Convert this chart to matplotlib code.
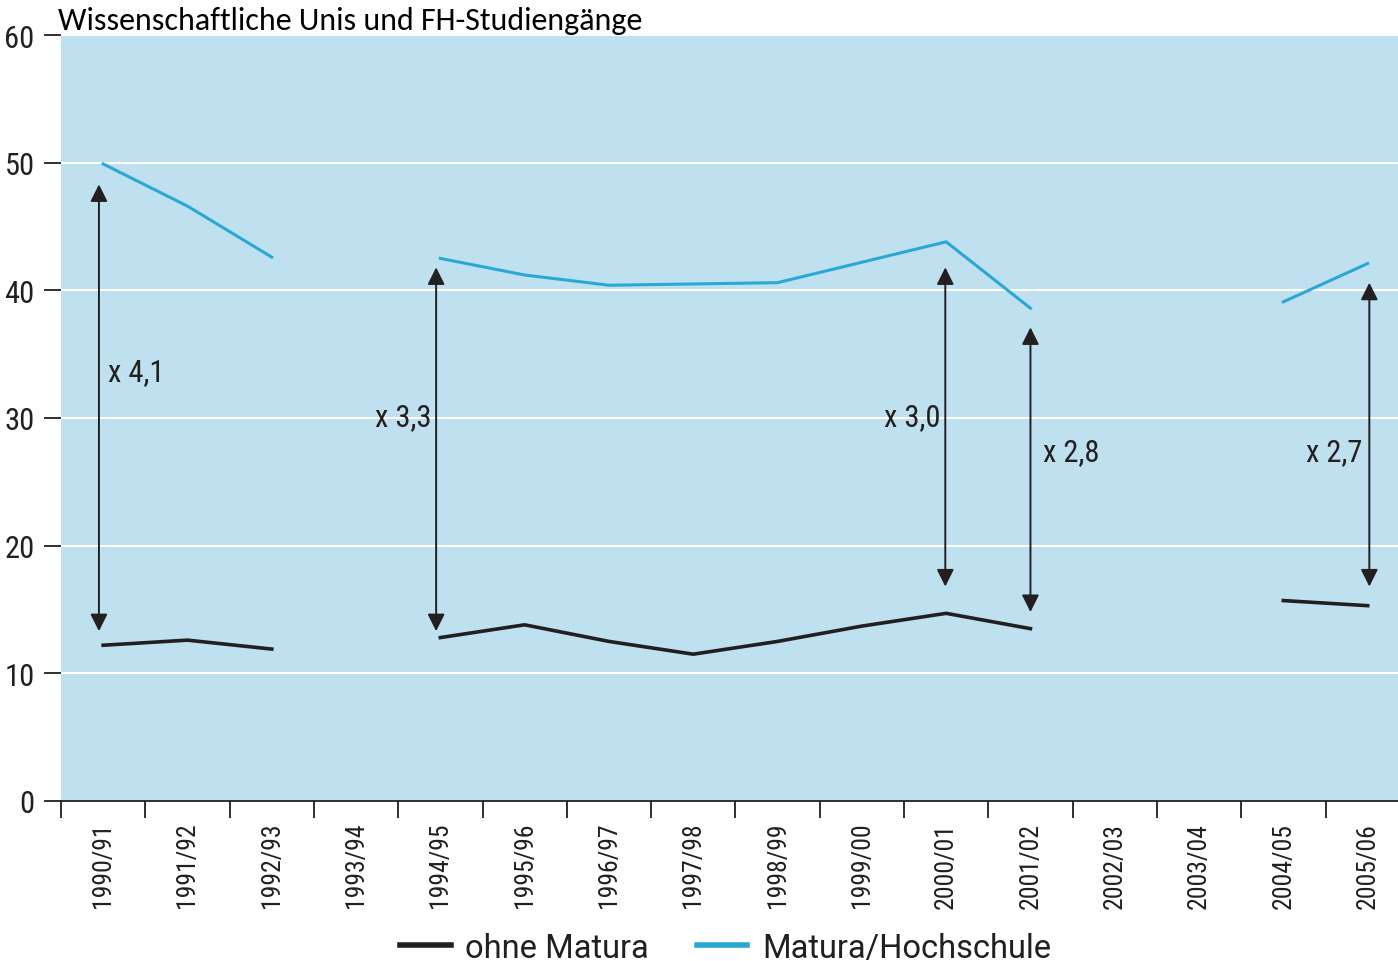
import numpy as np
import matplotlib.pyplot as plt
from matplotlib.ticker import FixedLocator

# Wissenschaftliche Unis und FH-Studiengaenge
jahre = ['1990/91', '1991/92', '1992/93', '1993/94', '1994/95', '1995/96',
         '1996/97', '1997/98', '1998/99', '1999/00', '2000/01', '2001/02',
         '2002/03', '2003/04', '2004/05', '2005/06']
ohne_matura = [12.2, 12.6, 11.9, np.nan, 12.8, 13.8, 12.5, 11.5, 12.5, 13.7,
               14.7, 13.5, np.nan, np.nan, 15.7, 15.3]
matura_hs = [49.9, 46.6, 42.6, np.nan, 42.5, 41.2, 40.4, 40.5, 40.6, 42.2,
             43.8, 38.6, np.nan, np.nan, 39.1, 42.1]

# Pfeile: Position, oben, unten, Faktor
pf_x = [-0.05, 3.95, 9.99, 11.0, 15.02]
pf_oben = [48.3, 41.8, 41.8, 37.1, 40.6]
pf_unten = [13.3, 13.3, 16.8, 14.8, 16.8]
faktor = ['x 4,1', 'x 3,3', 'x 3,0', 'x 2,8', 'x 2,7']

narrow = ['Roboto Condensed', 'Archivo Narrow', 'DejaVu Sans']
plt.rcParams['font.family'] = narrow
dunkel = '#231f20'

fig = plt.figure(figsize=(13.98, 9.62), dpi=100)
ax = fig.add_axes([61/1398, 160/962, 1337/1398, 766/962])
ax.set_facecolor('#bfe0ef')

x = np.arange(len(jahre))
ax.plot(x, ohne_matura, color=dunkel, lw=2.6, label='ohne Matura')
ax.plot(x, matura_hs, color='#2aa8d5', lw=2.2, label='Matura/Hochschule')

for i in range(len(pf_x)):
    ax.annotate('', xy=(pf_x[i], pf_unten[i]), xytext=(pf_x[i], pf_oben[i]),
                arrowprops=dict(arrowstyle='<|-|>', color=dunkel, lw=1.4,
                                mutation_scale=26, shrinkA=0, shrinkB=0))

ax.text(0.06, 33.6, faktor[0], fontsize=22, va='center', ha='left', color=dunkel)
ax.text(3.9, 30.1, faktor[1], fontsize=22, va='center', ha='right', color=dunkel)
ax.text(9.93, 30.1, faktor[2], fontsize=22, va='center', ha='right', color=dunkel)
ax.text(11.15, 27.4, faktor[3], fontsize=22, va='center', ha='left', color=dunkel)
ax.text(14.94, 27.4, faktor[4], fontsize=22, va='center', ha='right', color=dunkel)

ax.set_xlim(-0.5, 15.36)
ax.set_ylim(0, 60)
ax.set_yticks(range(0, 61, 10))
ax.yaxis.grid(True, color='white', lw=1.5)
ax.set_axisbelow(True)
ax.tick_params(axis='y', labelsize=22, length=12, width=1.3, pad=7,
               colors=dunkel)

ax.xaxis.set_major_locator(FixedLocator(np.arange(-0.5, 15, 1)))
ax.xaxis.set_major_formatter(plt.NullFormatter())
ax.xaxis.set_minor_locator(FixedLocator(x))
ax.set_xticklabels(jahre, minor=True, rotation=90, fontsize=18.5, color=dunkel)
ax.tick_params(axis='x', which='major', length=12, width=1.3, color=dunkel)
ax.tick_params(axis='x', which='minor', length=0, pad=15)

for s in ['top', 'right', 'left']:
    ax.spines[s].set_visible(False)
ax.spines['bottom'].set_linewidth(1.3)
ax.spines['bottom'].set_color(dunkel)

fig.text(58/1398, 1 - 21/962, 'Wissenschaftliche Unis und FH-Studiengänge',
         fontsize=23, family=['Carlito', 'DejaVu Sans'], va='center', ha='left')

fig.legend(loc='center', bbox_to_anchor=(0.519, 0.014), ncol=2, frameon=False,
           prop={'family': ['Roboto', 'DejaVu Sans'], 'size': 23.5},
           labelcolor=dunkel, handlelength=1.55, columnspacing=1.45,
           handletextpad=0.45)
for l in fig.legends[0].get_lines():
    l.set_linewidth(4)

fig.savefig('out.png', dpi=100)
